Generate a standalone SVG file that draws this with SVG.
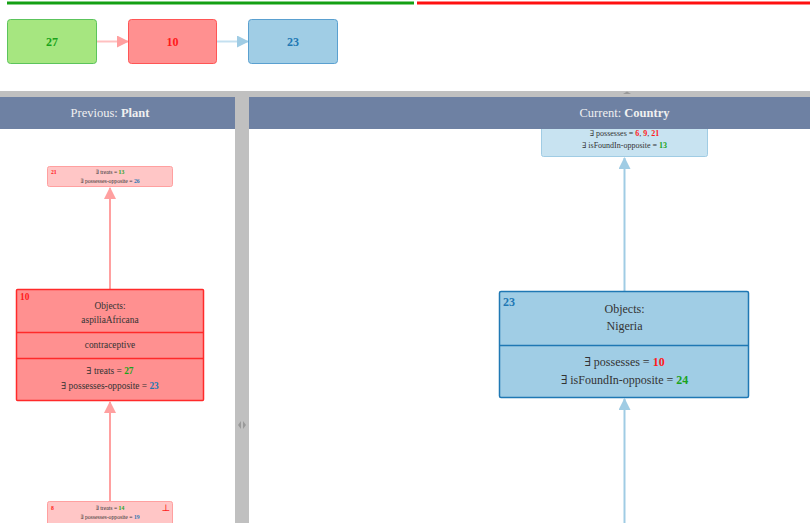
<svg xmlns="http://www.w3.org/2000/svg" width="810" height="523" viewBox="0 0 810 523">
<style>
text{font-family:"Liberation Serif","Times New Roman","DejaVu Serif",serif;fill:#333}
.c{text-anchor:middle}
.b{font-weight:bold}
.hdr{fill:#f0f0f0;font-size:12.5px}
.g{fill:#1aa31a}.r{fill:#ff1a1a}.bl{fill:#1f78b4}
.s6{font-size:5.7px}.s7{font-size:8px}.s9{font-size:9.4px}.s12{font-size:12px}
</style>
<defs>
<marker id="ap" markerWidth="12" markerHeight="12" refX="11" refY="6" orient="auto" markerUnits="userSpaceOnUse"><path d="M0,0L12,6L0,12Z" fill="#ffa0a0"/></marker>
<marker id="ab" markerWidth="12" markerHeight="12" refX="11" refY="6" orient="auto" markerUnits="userSpaceOnUse"><path d="M0,0L12,6L0,12Z" fill="#a0cce4"/></marker>
</defs>
<rect width="810" height="523" fill="#fff"/>
<rect x="7" y="1.5" width="407" height="3" fill="#14a014"/>
<rect x="417" y="1.5" width="393" height="3" fill="#ff1010"/>

<g id="connectors">
<line x1="97" y1="41.5" x2="128" y2="41.5" stroke="#ffc0c0" stroke-width="2" marker-end="url(#ap)"/>
<line x1="217" y1="41.5" x2="248" y2="41.5" stroke="#c4e0f0" stroke-width="2" marker-end="url(#ab)"/>
<line x1="110" y1="289" x2="110" y2="188" stroke="#ffa0a0" stroke-width="2" marker-end="url(#ap)"/>
<line x1="110" y1="501" x2="110" y2="402" stroke="#ffa0a0" stroke-width="2" marker-end="url(#ap)"/>
<line x1="624.5" y1="291" x2="624.5" y2="158" stroke="#a0cce4" stroke-width="2" marker-end="url(#ab)"/>
<line x1="624.5" y1="523" x2="624.5" y2="399" stroke="#a0cce4" stroke-width="2" marker-end="url(#ab)"/>
</g>

<g id="n27"><rect x="7.5" y="19.5" width="89" height="44" rx="3" fill="#a6e680" stroke="#5cc45c"/><text x="52" y="45.5" class="c b s12 g">27</text></g>
<g id="n10top"><rect x="128.5" y="19.5" width="88" height="44" rx="3" fill="#ff9090" stroke="#ff5555"/><text x="172.5" y="45.5" class="c b s12 r">10</text></g>
<g id="n23top"><rect x="248.5" y="19.5" width="89" height="44" rx="3" fill="#a0cde5" stroke="#5aa0d0"/><text x="293" y="45.5" class="c b s12 bl">23</text></g>

<g id="left-nodes">
<g id="n21"><rect x="47.5" y="166.5" width="125" height="20" rx="2" fill="#ffc6c6" stroke="#ffa0a0"/>
<text x="51" y="174" class="s6 b r">21</text>
<text x="110" y="174" class="c s6">∃ treats = <tspan class="b g">13</tspan></text>
<text x="110" y="183" class="c s6">∃ possesses-opposite = <tspan class="b bl">26</tspan></text></g>
<g id="n10"><rect x="16.5" y="289.5" width="187" height="111" rx="1" fill="#ff9090" stroke="#ff2a2a" stroke-width="1.5"/>
<line x1="16.5" y1="332.5" x2="203.5" y2="332.5" stroke="#ff2a2a" stroke-width="1.5"/>
<line x1="16.5" y1="358.5" x2="203.5" y2="358.5" stroke="#ff2a2a" stroke-width="1.5"/>
<text x="20" y="300" class="s9 b r">10</text>
<text x="110" y="309" class="c s9">Objects:</text>
<text x="110" y="323" class="c s9">aspiliaAfricana</text>
<text x="110" y="348" class="c s9">contraceptive</text>
<text x="110" y="374" class="c s9">∃ treats = <tspan class="b g">27</tspan></text>
<text x="110" y="389" class="c s9">∃ possesses-opposite = <tspan class="b bl">23</tspan></text></g>
<g id="n8"><rect x="47.5" y="501.5" width="125" height="26" rx="2" fill="#ffc6c6" stroke="#ffa0a0"/>
<text x="51" y="510" class="s6 b r">8</text>
<text x="110" y="510" class="c s6">∃ treats = <tspan class="b g">14</tspan></text>
<text x="110" y="519" class="c s6">∃ possesses-opposite = <tspan class="b bl">19</tspan></text>
<text x="166" y="511" class="c s9 r">⊥</text></g>
</g>

<g id="right-nodes">
<g id="ntop"><rect x="541.5" y="110.5" width="166" height="46" rx="2" fill="#c8e3f1" stroke="#a0cce4"/>
<text x="624.5" y="136" class="c s7">∃ possesses = <tspan class="b r">6</tspan>, <tspan class="b r">9</tspan>, <tspan class="b r">21</tspan></text>
<text x="624.5" y="148" class="c s7">∃ isFoundIn-opposite = <tspan class="b g">13</tspan></text></g>
<g id="n23"><rect x="499.5" y="291.5" width="249" height="106" rx="1.5" fill="#a0cde5" stroke="#1f78b4" stroke-width="1.5"/>
<line x1="499.5" y1="345.5" x2="748.5" y2="345.5" stroke="#1f78b4" stroke-width="1.5"/>
<text x="503" y="306" class="s12 b bl">23</text>
<text x="624.5" y="313" class="c s12">Objects:</text>
<text x="624.5" y="330" class="c s12">Nigeria</text>
<text x="624.5" y="366" class="c s12">∃ possesses = <tspan class="b r">10</tspan></text>
<text x="624.5" y="384" class="c s12">∃ isFoundIn-opposite = <tspan class="b g">24</tspan></text></g>
</g>

<g id="chrome">
<rect x="0" y="91" width="810" height="6" fill="#c0c0c0"/>
<path d="M623,94L627,91.5L631,94Z" fill="#999"/>
<rect x="235" y="91" width="14" height="432" fill="#c0c0c0"/>
<rect x="0" y="97" width="235" height="32" fill="#6e81a3"/>
<rect x="249" y="97" width="561" height="32" fill="#6e81a3"/>
<text x="110" y="117" class="c hdr">Previous: <tspan class="b">Plant</tspan></text>
<text x="624.5" y="117" class="c hdr">Current: <tspan class="b">Country</tspan></text>
<path d="M241,421L238,425L241,429Z M243,421L246,425L243,429Z" fill="#999"/>
</g>
</svg>
